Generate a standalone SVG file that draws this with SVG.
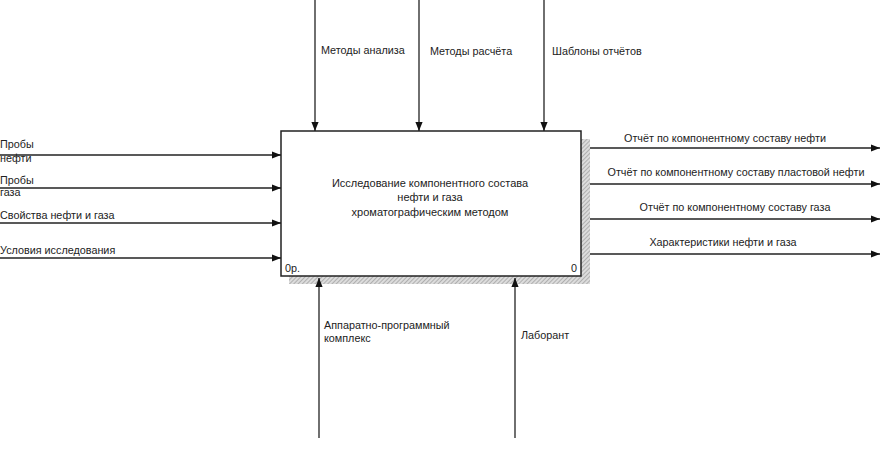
<svg xmlns="http://www.w3.org/2000/svg" width="880" height="455" viewBox="0 0 880 455">
<style>
.t{font-family:"Liberation Sans",Arial,sans-serif;font-size:10.8px;fill:#222}
.b{font-family:"Liberation Sans",Arial,sans-serif;font-size:11px;fill:#222}
.c{stroke:#222;stroke-width:1.3;fill:none}
</style>
<defs>
<marker id="ah" viewBox="0 0 10 10" refX="10" refY="5" markerWidth="9" markerHeight="9" markerUnits="userSpaceOnUse" orient="auto">
<path d="M0,1 L10,5 L0,9 Z" fill="#111"/>
</marker>
<pattern id="hatch" width="3" height="3" patternUnits="userSpaceOnUse" patternTransform="rotate(45)">
<rect width="3" height="3" fill="#dcdcdc"/>
<line x1="0" y1="0" x2="0" y2="3" stroke="#8a8a8a" stroke-width="1.1"/>
</pattern>
</defs>
<rect width="880" height="455" fill="#fff"/>
<g id="node-main">
<rect x="289" y="139" width="301" height="145" fill="url(#hatch)"/>
<rect x="281" y="131" width="300" height="145" fill="#fff" stroke="#222" stroke-width="1.5"/>
<text class="b" x="430" y="187" text-anchor="middle">Исследование компонентного состава</text>
<text class="b" x="430" y="201" text-anchor="middle">нефти и газа</text>
<text class="b" x="430" y="216" text-anchor="middle">хроматографическим методом</text>
<text class="t" x="285" y="272">0р.</text>
<text class="t" x="571" y="272">0</text>
</g>
<g id="connectors">
<line class="c" x1="0" y1="155" x2="281" y2="155" marker-end="url(#ah)"/>
<line class="c" x1="0" y1="188" x2="281" y2="188" marker-end="url(#ah)"/>
<line class="c" x1="0" y1="223" x2="281" y2="223" marker-end="url(#ah)"/>
<line class="c" x1="0" y1="258" x2="281" y2="258" marker-end="url(#ah)"/>
<line class="c" x1="315" y1="0" x2="315" y2="131" marker-end="url(#ah)"/>
<line class="c" x1="419" y1="0" x2="419" y2="131" marker-end="url(#ah)"/>
<line class="c" x1="544" y1="0" x2="544" y2="131" marker-end="url(#ah)"/>
<line class="c" x1="590" y1="148" x2="880" y2="148" marker-end="url(#ah)"/>
<line class="c" x1="590" y1="184" x2="880" y2="184" marker-end="url(#ah)"/>
<line class="c" x1="590" y1="219" x2="880" y2="219" marker-end="url(#ah)"/>
<line class="c" x1="590" y1="254" x2="880" y2="254" marker-end="url(#ah)"/>
<line class="c" x1="319" y1="438" x2="319" y2="278" marker-end="url(#ah)"/>
<line class="c" x1="515" y1="438" x2="515" y2="278" marker-end="url(#ah)"/>
</g>
<g id="labels">
<text class="t" x="0" y="148">Пробы</text>
<text class="t" x="0" y="162">нефти</text>
<text class="t" x="0" y="184">Пробы</text>
<text class="t" x="0" y="196">газа</text>
<text class="t" x="0" y="219">Свойства нефти и газа</text>
<text class="t" x="0" y="254">Условия исследования</text>
<text class="t" x="321" y="54">Методы анализа</text>
<text class="t" x="430" y="55">Методы расчёта</text>
<text class="t" x="552" y="55">Шаблоны отчётов</text>
<text class="t" x="725" y="142" text-anchor="middle">Отчёт по компонентному составу нефти</text>
<text class="t" x="736" y="176" text-anchor="middle">Отчёт по компонентному составу пластовой нефти</text>
<text class="t" x="735" y="211" text-anchor="middle">Отчёт по компонентному составу газа</text>
<text class="t" x="723" y="246" text-anchor="middle">Характеристики нефти и газа</text>
<text class="t" x="324" y="329">Аппаратно-программный</text>
<text class="t" x="324" y="342">комплекс</text>
<text class="t" x="521" y="339">Лаборант</text>
</g>
</svg>
